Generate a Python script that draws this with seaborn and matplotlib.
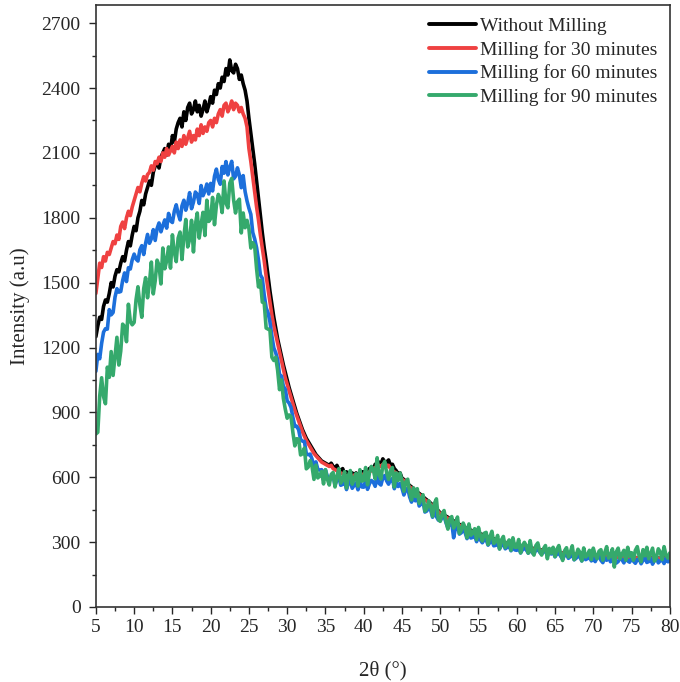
import matplotlib
matplotlib.use('Agg')
import matplotlib.pyplot as plt
import numpy as np
import pandas as pd
import seaborn as sns
from matplotlib import ticker

# 2theta grid, 0.25 degree step from 5 to 80 (one row below = 5 degrees)
two_theta = np.linspace(5, 80, 301)

without_milling = [
    1250, 1300, 1340, 1330, 1390, 1420, 1410, 1450, 1500, 1480, 1530, 1560, 1550, 1590, 1620, 1600, 1650, 1690, 1670, 1720,
    1760, 1740, 1800, 1830, 1880, 1860, 1910, 1940, 1970, 1950, 2010, 2040, 2060, 2030, 2080, 2100, 2120, 2090, 2140, 2110,
    2180, 2150, 2210, 2240, 2260, 2220, 2290, 2250, 2310, 2330, 2280, 2300, 2340, 2290, 2320, 2270, 2300, 2340, 2290, 2320,
    2360, 2330, 2390, 2370, 2420, 2400, 2450, 2430, 2490, 2460, 2530, 2480, 2470, 2510, 2490, 2440, 2460, 2420, 2390, 2340,
    2260, 2190, 2120, 2050, 1970, 1890, 1810, 1730, 1660, 1600, 1530, 1460, 1400, 1340, 1290, 1240, 1200, 1160, 1120, 1085,
    1050, 1015, 985, 955, 925, 895, 870, 845, 820, 800, 780, 765, 750, 735, 720, 705, 695, 685, 675, 670,
    665, 660, 655, 665, 650, 640, 655, 635, 630, 640, 615, 625, 615, 600, 620, 610, 620, 605, 615, 625,
    625, 615, 630, 640, 645, 635, 660, 650, 670, 660, 685, 670, 670, 680, 655, 660, 640, 630, 615, 620,
    595, 590, 580, 570, 562, 555, 548, 540, 532, 525, 518, 510, 502, 495, 488, 480, 472, 465, 455, 445,
    435, 432, 425, 420, 415, 410, 405, 398, 392, 388, 382, 378, 372, 368, 362, 360, 355, 350, 348, 345,
    342, 338, 335, 330, 328, 325, 320, 318, 315, 312, 308, 306, 303, 300, 298, 296, 294, 292, 290, 289,
    288, 286, 284, 282, 280, 278, 276, 274, 272, 270, 268, 266, 265, 264, 262, 260, 259, 258, 256, 255,
    254, 253, 252, 251, 250, 249, 248, 247, 246, 245, 244, 243, 242, 241, 240, 240, 239, 238, 238, 237,
    237, 236, 236, 235, 235, 234, 234, 233, 233, 232, 232, 232, 231, 231, 231, 230, 230, 230, 229, 229,
    229, 229, 228, 228, 228, 228, 227, 227, 227, 227, 226, 226, 226, 226, 226, 225, 225, 226, 227, 228,
    230,
]

milling_30 = [
    1450, 1520, 1590, 1570, 1620, 1600, 1640, 1630, 1660, 1690, 1680, 1720, 1700, 1760, 1780, 1750, 1800, 1830, 1810, 1850,
    1880, 1910, 1940, 1920, 1960, 1990, 1970, 2000, 2010, 2040, 2020, 2060, 2050, 2080, 2060, 2100, 2080, 2120, 2090, 2110,
    2130, 2100, 2150, 2120, 2160, 2130, 2180, 2140, 2170, 2200, 2150, 2180, 2160, 2210, 2180, 2230, 2190, 2220, 2200, 2240,
    2250, 2220, 2260, 2240, 2280, 2300, 2270, 2320, 2330, 2290, 2310, 2340, 2300, 2330, 2320, 2290, 2310, 2280, 2260, 2220,
    2120, 2060, 1990, 1920, 1850, 1790, 1720, 1660, 1600, 1530, 1470, 1410, 1350, 1300, 1260, 1220, 1180, 1140, 1100, 1060,
    1030, 1000, 970, 940, 910, 885, 860, 835, 810, 790, 770, 755, 740, 725, 710, 700, 690, 680, 670, 665,
    660, 655, 650, 655, 640, 635, 630, 620, 620, 615, 610, 605, 605, 595, 600, 610, 610, 600, 600, 610,
    615, 610, 620, 625, 630, 640, 645, 640, 655, 650, 660, 655, 650, 655, 640, 630, 625, 620, 610, 600,
    590, 585, 575, 565, 555, 550, 540, 535, 525, 520, 512, 505, 495, 490, 480, 475, 468, 460, 450, 440,
    432, 428, 420, 415, 410, 405, 400, 392, 388, 382, 378, 372, 368, 362, 358, 355, 350, 346, 343, 340,
    338, 334, 330, 327, 324, 320, 317, 314, 311, 308, 305, 302, 300, 298, 296, 294, 292, 290, 288, 286,
    285, 283, 281, 279, 277, 275, 273, 271, 269, 267, 265, 264, 263, 262, 260, 259, 258, 257, 255, 254,
    253, 252, 251, 250, 249, 248, 247, 246, 245, 244, 243, 242, 241, 240, 240, 239, 238, 238, 237, 236,
    236, 235, 235, 234, 234, 233, 233, 232, 232, 231, 231, 231, 230, 230, 230, 229, 229, 229, 228, 228,
    228, 228, 227, 227, 227, 227, 226, 226, 226, 226, 225, 225, 225, 225, 225, 224, 224, 225, 226, 227,
    228,
]

milling_60 = [
    1090, 1168, 1148, 1219, 1271, 1287, 1285, 1375, 1351, 1362, 1433, 1472, 1456, 1459, 1510, 1545, 1505, 1569, 1563, 1606,
    1632, 1609, 1600, 1652, 1671, 1630, 1682, 1723, 1682, 1703, 1745, 1695, 1750, 1776, 1735, 1764, 1790, 1752, 1820, 1786,
    1778, 1830, 1860, 1819, 1790, 1855, 1881, 1835, 1868, 1916, 1842, 1872, 1919, 1908, 1866, 1949, 1902, 1923, 1956, 1910,
    1959, 1924, 1992, 2025, 1977, 1955, 2037, 2006, 2060, 1998, 2034, 2061, 1980, 1992, 2031, 1998, 1939, 1995, 1921, 1878,
    1844, 1816, 1732, 1702, 1662, 1604, 1536, 1520, 1442, 1384, 1360, 1318, 1253, 1198, 1176, 1144, 1075, 1068, 1021, 1007,
    953, 943, 923, 876, 835, 836, 819, 775, 767, 765, 709, 704, 707, 684, 647, 671, 637, 633, 635, 604,
    634, 604, 582, 605, 605, 564, 587, 603, 563, 567, 588, 543, 573, 585, 549, 563, 574, 542, 584, 555,
    554, 584, 544, 570, 585, 578, 558, 604, 572, 564, 598, 608, 583, 568, 588, 594, 547, 577, 557, 571,
    550, 518, 543, 549, 509, 485, 518, 491, 511, 467, 477, 488, 439, 444, 465, 448, 415, 451, 418, 402,
    399, 415, 420, 390, 366, 389, 391, 320, 367, 382, 337, 343, 358, 344, 316, 350, 319, 322, 331, 302,
    327, 310, 297, 311, 311, 286, 299, 308, 283, 285, 297, 269, 286, 292, 269, 276, 281, 260, 283, 264,
    262, 277, 250, 265, 271, 264, 249, 274, 252, 245, 264, 269, 253, 244, 256, 262, 235, 255, 245, 256,
    232, 245, 251, 234, 221, 239, 244, 225, 233, 246, 218, 225, 236, 231, 213, 238, 219, 224, 231, 213,
    225, 210, 229, 236, 216, 205, 228, 216, 231, 209, 218, 229, 203, 210, 226, 219, 204, 229, 213, 207,
    226, 212, 202, 219, 222, 200, 216, 228, 206, 210, 224, 198, 217, 225, 204, 213, 220, 201, 226, 209,
    212,
]

milling_90 = [
    800, 808, 975, 1060, 973, 940, 1109, 1062, 1181, 1071, 1159, 1247, 1119, 1184, 1308, 1297, 1227, 1400, 1321, 1305,
    1316, 1421, 1481, 1397, 1340, 1472, 1523, 1430, 1499, 1595, 1448, 1508, 1604, 1580, 1494, 1660, 1564, 1601, 1665, 1567,
    1721, 1641, 1597, 1706, 1734, 1607, 1713, 1792, 1665, 1700, 1788, 1642, 1767, 1822, 1706, 1770, 1825, 1718, 1881, 1783,
    1796, 1894, 1768, 1858, 1908, 1886, 1824, 1970, 1868, 1846, 1960, 1982, 1882, 1822, 1874, 1886, 1730, 1822, 1754, 1788,
    1750, 1660, 1685, 1670, 1565, 1480, 1510, 1410, 1405, 1290, 1285, 1280, 1155, 1140, 1155, 1095, 1005, 1050, 965, 915,
    873, 888, 880, 806, 745, 778, 776, 703, 709, 735, 639, 647, 677, 649, 590, 656, 597, 606, 627, 569,
    635, 591, 564, 613, 622, 555, 604, 640, 573, 586, 626, 550, 608, 631, 568, 595, 617, 559, 635, 582,
    585, 645, 565, 620, 650, 635, 593, 690, 612, 592, 655, 673, 620, 590, 630, 645, 555, 620, 585, 620,
    583, 535, 579, 591, 531, 495, 551, 511, 547, 479, 499, 519, 443, 455, 491, 467, 419, 480, 500, 406,
    396, 431, 446, 397, 360, 407, 418, 365, 384, 416, 340, 356, 388, 368, 320, 384, 332, 341, 362, 311,
    368, 330, 305, 341, 345, 289, 325, 350, 294, 302, 331, 268, 310, 326, 275, 294, 310, 262, 320, 276,
    276, 312, 250, 284, 299, 283, 249, 307, 256, 240, 284, 296, 258, 240, 270, 284, 223, 271, 249, 276,
    233, 267, 284, 244, 215, 260, 274, 231, 252, 283, 219, 237, 267, 253, 213, 273, 231, 240, 262, 219,
    272, 241, 223, 258, 265, 216, 251, 279, 226, 237, 269, 185, 254, 272, 223, 244, 262, 216, 276, 234,
    251, 216, 262, 279, 234, 209, 265, 237, 276, 223, 248, 272, 212, 230, 269, 254, 219, 279, 240, 226,
    250,
]

labels = ['Without Milling', 'Milling for 30 minutes',
          'Milling for 60 minutes', 'Milling for 90 minutes']
colors = ['#000000', '#EF4141', '#1C6FDB', '#35A96C']

frames = []
for label, values in zip(labels, [without_milling, milling_30, milling_60, milling_90]):
    frames.append(pd.DataFrame({'two_theta': two_theta, 'intensity': values, 'sample': label}))
df = pd.concat(frames, ignore_index=True)

sns.set_style('ticks')
plt.rcParams['font.family'] = ['Liberation Serif', 'DejaVu Serif']

fig = plt.figure(figsize=(6.8, 6.82), dpi=100)
ax = fig.add_axes([0.141, 0.110, 0.844, 0.883])
sns.lineplot(data=df, x='two_theta', y='intensity', hue='sample', hue_order=labels,
             palette=colors, estimator=None, linewidth=2.6, ax=ax)

ax.set_xlim(5, 80)
ax.set_ylim(0, 2785)
ax.xaxis.set_major_locator(ticker.MultipleLocator(5))
ax.xaxis.set_minor_locator(ticker.MultipleLocator(2.5))
ax.yaxis.set_major_locator(ticker.MultipleLocator(300))
ax.yaxis.set_minor_locator(ticker.MultipleLocator(150))
ax.tick_params(which='major', direction='out', length=5, width=1, labelsize=14)
ax.tick_params(axis='y', which='major', pad=6)
ax.tick_params(which='minor', direction='out', length=3, width=1)
for spine in ax.spines.values():
    spine.set_visible(True)
    spine.set_linewidth(1.2)
    spine.set_color('#333333')

ax.set_xlabel('2θ (°)', fontsize=15, labelpad=18)
ax.set_ylabel('Intensity (a.u)', fontsize=15, labelpad=8)

ax.legend(loc='upper right', frameon=False, fontsize=14, handlelength=2.4,
          handletextpad=0.2, labelspacing=0.3, borderaxespad=0.25)
for line in ax.get_legend().get_lines():
    line.set_linewidth(2.8)

fig.savefig('out.png', dpi=100)
